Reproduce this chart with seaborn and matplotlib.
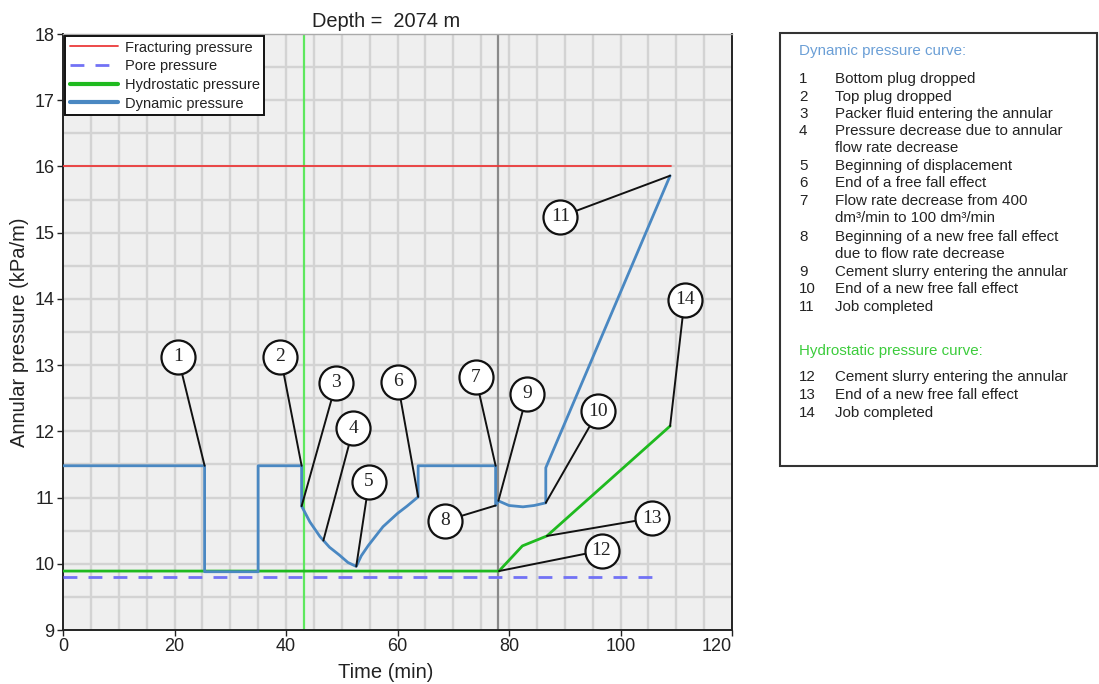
import matplotlib
matplotlib.use("Agg")
import matplotlib.pyplot as plt
import matplotlib.patches as mpatches
from matplotlib.lines import Line2D
import seaborn as sns
import pandas as pd

# ---------------- data ----------------
dyn_time = [0, 25.4, 25.4, 35.0, 35.0, 42.8, 42.8, 44.3, 46.1, 47.8, 49.6, 51.1, 52.6, 53.5, 54.8, 57.4, 60.0,
            61.7, 63.7, 63.7, 77.6, 77.6, 78.1, 80.0, 82.5, 84.5, 86.6, 86.6, 108.9]
dyn_value = [11.48, 11.48, 9.88, 9.88, 11.48, 11.48, 10.87, 10.63, 10.41, 10.25, 10.13, 10.02, 9.96, 10.12, 10.28,
             10.56, 10.76, 10.87, 11.01, 11.48, 11.48, 10.88, 10.95, 10.88, 10.86, 10.88, 10.92, 11.45, 15.86]
hyd_time = [0, 78.2, 82.4, 86.8, 108.9]
hyd_value = [9.89, 9.89, 10.27, 10.42, 12.08]
pore_time = [0, 107.6]
pore_value = [9.80, 9.80]
frac_time = [0, 109.0]
frac_value = [16.0, 16.0]

marker_green_x = 43.3
marker_grey_x = 78.1

ann_labels = ["1", "2", "3", "4", "5", "6", "7", "8", "9", "10", "11", "12", "13", "14"]
ann_circle_x = [20.6, 39.0, 49.0, 52.1, 54.9, 60.0, 74.0, 68.6, 83.3, 96.0, 89.2, 96.6, 105.6, 111.5]
ann_circle_y = [13.13, 13.13, 12.73, 12.05, 11.24, 12.75, 12.82, 10.65, 12.57, 12.30, 15.24, 10.20, 10.69, 13.99]
ann_point_x = [25.4, 42.8, 42.8, 46.7, 52.6, 63.7, 77.6, 77.6, 78.1, 86.6, 108.9, 78.2, 86.8, 108.9]
ann_point_y = [11.48, 11.48, 10.87, 10.35, 9.96, 11.01, 11.48, 10.88, 10.95, 10.92, 15.86, 9.89, 10.42, 12.08]

title = "Depth =  2074 m"
xlabel = "Time (min)"
ylabel = "Annular pressure (kPa/m)"
legend_labels = ["Fracturing pressure", "Pore pressure", "Hydrostatic pressure", "Dynamic pressure"]

dyn_header = "Dynamic pressure curve:"
dyn_items = [("1", "Bottom plug dropped"),
             ("2", "Top plug dropped"),
             ("3", "Packer fluid entering the annular"),
             ("4", "Pressure decrease due to annular"),
             ("", "flow rate decrease"),
             ("5", "Beginning of displacement"),
             ("6", "End of a free fall effect"),
             ("7", "Flow rate decrease from 400"),
             ("", "dm\u00b3/min to 100 dm\u00b3/min"),
             ("8", "Beginning of a new free fall effect"),
             ("", "due to flow rate decrease"),
             ("9", "Cement slurry entering the annular"),
             ("10", "End of a new free fall effect"),
             ("11", "Job completed")]
hyd_header = "Hydrostatic pressure curve:"
hyd_items = [("12", "Cement slurry entering the annular"),
             ("13", "End of a new free fall effect"),
             ("14", "Job completed")]

# ---------------- style ----------------
sns.set_theme(style="ticks")
plt.rcParams['font.family'] = ['Liberation Sans', 'DejaVu Sans']

C_DYN = "#4a88c2"
C_HYD = "#1fba1f"
C_FRAC = "#ec3a3a"
C_PORE = "#7272f5"
C_TXT = "#222222"

fig = plt.figure(figsize=(10.99, 6.84), dpi=100)
W, H = 1099, 684
ax = fig.add_axes([63 / W, 1 - 630 / H, (732 - 63) / W, (630 - 34) / H])
ax.set_facecolor("#efefef")

ax.set_xlim(0, 120)
ax.set_ylim(9, 18)

# grid
for gx in range(5, 120, 5):
    ax.axvline(gx, color="#d3d3d3", lw=1.7, zorder=0)
for k in range(1, 18):
    gy = 9 + 0.5 * k
    ax.axhline(gy, color="#d3d3d3", lw=1.7, zorder=0)

ax.axvline(marker_green_x, color="#5ee85e", lw=1.6, zorder=2)
ax.axvline(marker_grey_x, color="#8a8a8a", lw=1.6, zorder=2)

df_frac = pd.DataFrame({"t": frac_time, "v": frac_value})
df_pore = pd.DataFrame({"t": pore_time, "v": pore_value})
df_hyd = pd.DataFrame({"t": hyd_time, "v": hyd_value})
df_dyn = pd.DataFrame({"t": dyn_time, "v": dyn_value})

sns.lineplot(data=df_frac, x="t", y="v", ax=ax, color=C_FRAC, lw=1.3, estimator=None, sort=False, zorder=3)
sns.lineplot(data=df_pore, x="t", y="v", ax=ax, color=C_PORE, lw=2.0, estimator=None, sort=False,
             zorder=3).lines[-1].set_dashes([5, 4])
sns.lineplot(data=df_hyd, x="t", y="v", ax=ax, color=C_HYD, lw=2.0, estimator=None, sort=False, zorder=3)
sns.lineplot(data=df_dyn, x="t", y="v", ax=ax, color=C_DYN, lw=2.0, estimator=None, sort=False, zorder=3)

# annotations
for lab, cx, cy, px, py in zip(ann_labels, ann_circle_x, ann_circle_y, ann_point_x, ann_point_y):
    ax.plot([cx, px], [cy, py], color="#111111", lw=1.4, zorder=5, solid_capstyle="round")
    ax.scatter([cx], [cy], s=24.5 ** 2, facecolor="white", edgecolor="#111111", linewidth=1.6, zorder=6)
    ax.text(cx, cy, lab, ha="center", va="center", fontsize=14, zorder=7,
            family=["Liberation Serif", "DejaVu Serif"], color=C_TXT)

ax.set_xticks(range(0, 121, 20))
ax.set_yticks(range(9, 19))
ax.tick_params(axis="both", labelsize=13, length=4, width=1, color=C_TXT, pad=2, labelcolor=C_TXT)
for lbl in ax.get_xticklabels():
    if lbl.get_text() == "120":
        lbl.set_horizontalalignment("right")
ax.set_xlabel(xlabel, fontsize=14.5, color=C_TXT)
ax.xaxis.set_label_coords((386 - 63) / 669, (630 - 663) / 596)
ax.set_ylabel(ylabel, fontsize=14.5, labelpad=4, color=C_TXT)
ax.set_title(title, fontsize=14.4, pad=5, color=C_TXT, x=(386 - 63) / 669)
for s in ["left", "bottom", "right"]:
    ax.spines[s].set_color(C_TXT)
    ax.spines[s].set_linewidth(1.4)
ax.spines["top"].set_color("#aaaaaa")
ax.spines["top"].set_linewidth(1.0)

handles = [Line2D([], [], color=C_FRAC, lw=1.3),
           Line2D([], [], color=C_PORE, lw=2.0, dashes=[5, 4]),
           Line2D([], [], color=C_HYD, lw=3.0),
           Line2D([], [], color=C_DYN, lw=3.0)]
leg = ax.legend(handles, legend_labels, loc="upper left", fontsize=10.5, frameon=True, fancybox=False,
                borderaxespad=0.15, handlelength=3.3, labelspacing=0.32, borderpad=0.3, handletextpad=0.5)
leg.get_frame().set_edgecolor("#111111")
leg.get_frame().set_linewidth(1.4)
leg.get_frame().set_alpha(1)
for t in leg.get_texts():
    t.set_color(C_TXT)
leg.set_zorder(10)

# right-side note panel
box = mpatches.Rectangle((780 / W, 1 - 466 / H), (1097 - 780) / W, (466 - 33) / H,
                         transform=fig.transFigure, fill=False, edgecolor="#333333", lw=1.5)
fig.patches.append(box)

def fy(py):
    return 1 - py / H

FS = 10.9
fig.text(799 / W, fy(51.5), dyn_header, fontsize=FS, color="#6b9fd6", va="center")
ys = [79.3, 96.7, 114, 130.7, 148.3, 166, 183.3, 200.7, 218.3, 236.7, 254, 271.7, 289.3, 306.7]
for (n, txt), py in zip(dyn_items, ys):
    if n:
        fig.text(799 / W, fy(py), n, fontsize=FS, color=C_TXT, va="center")
    fig.text(835 / W, fy(py), txt, fontsize=FS, color=C_TXT, va="center")
fig.text(799 / W, fy(350.5), hyd_header, fontsize=FS, color="#3ccc3c", va="center")
for (n, txt), py in zip(hyd_items, [377.3, 395, 412.7]):
    fig.text(799 / W, fy(py), n, fontsize=FS, color=C_TXT, va="center")
    fig.text(835 / W, fy(py), txt, fontsize=FS, color=C_TXT, va="center")

fig.savefig("out.png", dpi=100)
